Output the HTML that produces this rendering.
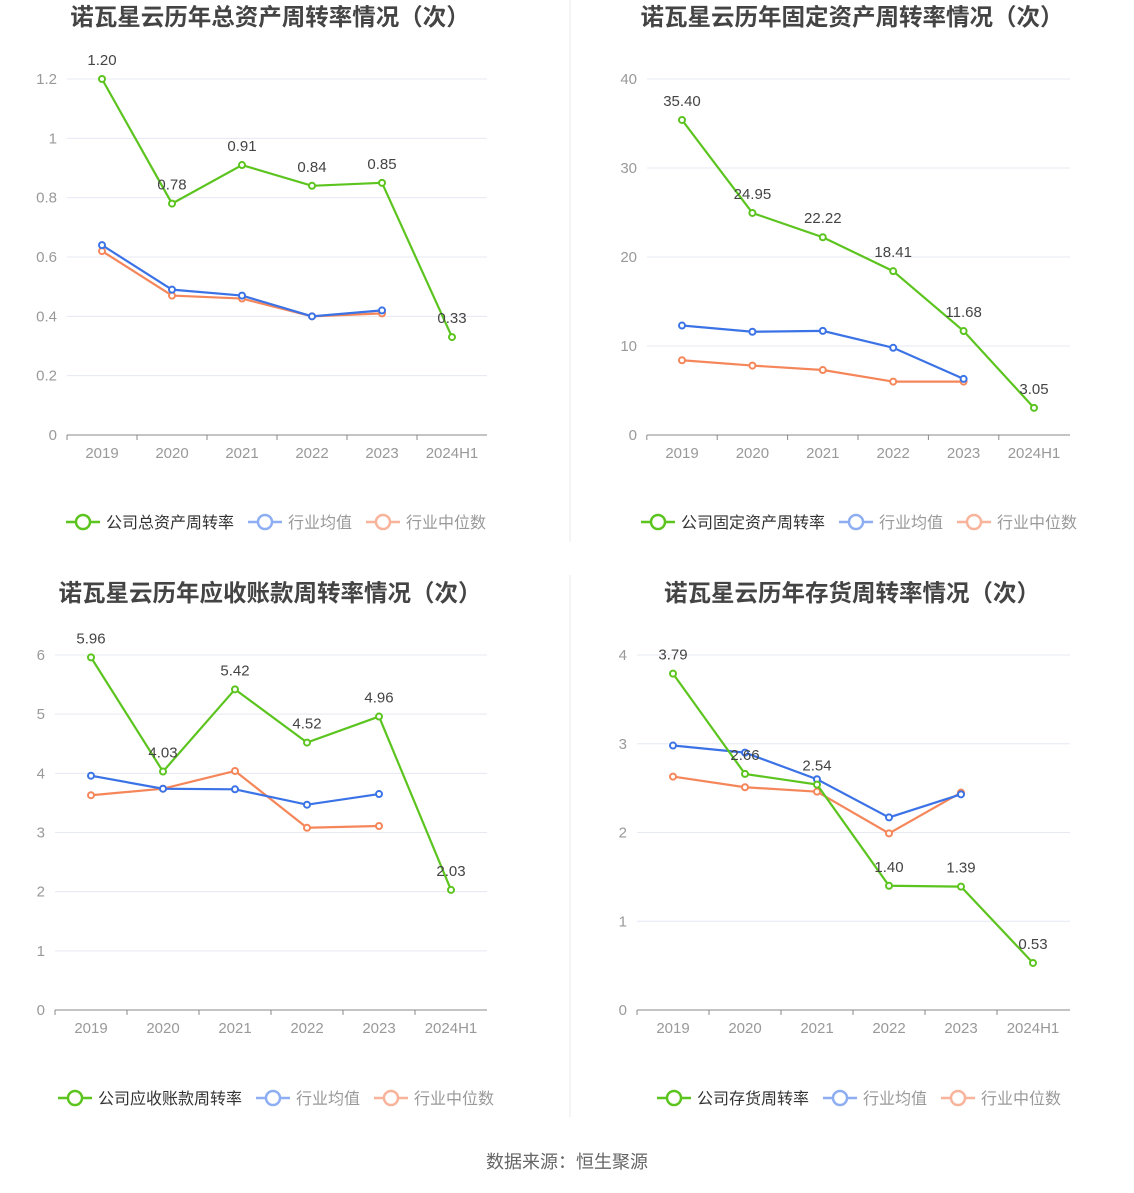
<!DOCTYPE html>
<html><head><meta charset="utf-8"><style>
body{margin:0;background:#fff;width:1134px;height:1188px;overflow:hidden;font-family:"Liberation Sans","Noto Sans CJK SC",sans-serif}
svg text{font-family:"Liberation Sans","Noto Sans CJK SC",sans-serif}
</style></head><body>
<svg id="root" width="1134" height="1188">
<line x1="570" y1="0" x2="570" y2="542" stroke="#e8e8e8"/>
<line x1="570" y1="575" x2="570" y2="1117" stroke="#e8e8e8"/>
<text x="567" y="1168" text-anchor="middle" font-size="18" fill="#666">数据来源：恒生聚源</text>
</svg>
<script>
const categories=["2019","2020","2021","2022","2023","2024H1"];
const c1Company=[1.20,0.78,0.91,0.84,0.85,0.33];
const c1Avg=[0.64,0.49,0.47,0.40,0.42];
const c1Med=[0.62,0.47,0.46,0.40,0.41];
const c1Ticks=[0,0.2,0.4,0.6,0.8,1,1.2];
const c2Company=[35.40,24.95,22.22,18.41,11.68,3.05];
const c2Avg=[12.3,11.6,11.7,9.8,6.3];
const c2Med=[8.4,7.8,7.3,6.0,6.0];
const c2Ticks=[0,10,20,30,40];
const c3Company=[5.96,4.03,5.42,4.52,4.96,2.03];
const c3Avg=[3.96,3.74,3.73,3.47,3.65];
const c3Med=[3.63,3.74,4.04,3.08,3.11];
const c3Ticks=[0,1,2,3,4,5,6];
const c4Company=[3.79,2.66,2.54,1.40,1.39,0.53];
const c4Avg=[2.98,2.90,2.60,2.17,2.43];
const c4Med=[2.63,2.51,2.46,1.99,2.45];
const c4Ticks=[0,1,2,3,4];

const NS="http://www.w3.org/2000/svg";
const root=document.getElementById('root');
function mk(tag,attrs,parent){const e=document.createElementNS(NS,tag);for(const k in attrs)e.setAttribute(k,attrs[k]);parent.appendChild(e);return e;}
const G="#5cc41f",B="#3b73e6",O="#f5865a";

function chart(cfg){
  const g=mk('g',{},root);
  
  
  const t=mk('text',{x:cfg.tx,y:cfg.ty,'text-anchor':'middle','font-size':23.5,'font-weight':'bold',fill:'#444'},g);
  t.textContent=cfg.title;
  
  
  const max=cfg.ticks[cfg.ticks.length-1];
  const y=v=>cfg.y0-(v/max)*(cfg.y0-cfg.yTop);
  const x=i=>cfg.x0+cfg.step*i;
  cfg.ticks.forEach(tv=>{
    if(tv>0){const l=mk('line',{x1:cfg.left,x2:cfg.right,y1:y(tv),y2:y(tv),stroke:'#e6e8f2'},g);
      }
    const tl=mk('text',{x:cfg.left-10,y:y(tv)+5,'text-anchor':'end','font-size':15,fill:'#999'},g);
    tl.textContent=String(tv);
    
  });
  const ax=mk('line',{x1:cfg.left,x2:cfg.right,y1:cfg.y0,y2:cfg.y0,stroke:'#888'},g);
  
  categories.forEach((c,i)=>{
    const tk=mk('line',{x1:x(i)-cfg.step/2,x2:x(i)-cfg.step/2,y1:cfg.y0,y2:cfg.y0+5,stroke:'#888'},g);
    
    const tl=mk('text',{x:x(i),y:cfg.y0+23,'text-anchor':'middle','font-size':15,fill:'#999'},g);
    tl.textContent=c;
    
  });
  const series=[[cfg.med,O,'median-line'],[cfg.avg,B,'average-line'],[cfg.comp,G,'company-line']];
  series.forEach(([d,col,nm])=>{
    const p=mk('polyline',{points:d.map((v,i)=>x(i)+','+y(v)).join(' '),fill:'none',stroke:col,'stroke-width':2.2},g);
    
    d.forEach((v,i)=>{
      const c=mk('circle',{cx:x(i),cy:y(v),r:3,fill:'#fff',stroke:col,'stroke-width':2},g);
      
    });
  });
  cfg.comp.forEach((v,i)=>{
    const tl=mk('text',{x:x(i),y:y(v)-14,'text-anchor':'middle','font-size':15,fill:'#444'},g);
    tl.textContent=v.toFixed(2);
    
  });
  let lx=cfg.lx;const ly=cfg.ly;
  const items=[[cfg.lname,G,'#333'],['行业均值','#8eaef3','#999'],['行业中位数','#f8b39b','#999']];
  items.forEach(([lab,col,tc])=>{
    const lg=mk('g',{},g);
    
    mk('line',{x1:lx,x2:lx+34,y1:ly,y2:ly,stroke:col,'stroke-width':2.5},lg);
    mk('circle',{cx:lx+17,cy:ly,r:7,fill:'#fff',stroke:col,'stroke-width':2.5},lg);
    const tt=mk('text',{x:lx+40,y:ly+6,'font-size':16,fill:tc},lg);
    tt.textContent=lab;
    lx+=40+lab.length*16+14;
  });
}
chart({name:'total-asset-turnover-chart',title:'诺瓦星云历年总资产周转率情况（次）',tx:270,ty:25,left:67,right:487,x0:102,step:70,y0:435,yTop:79,ticks:c1Ticks,comp:c1Company,avg:c1Avg,med:c1Med,lname:'公司总资产周转率',lx:66,ly:522});
chart({name:'fixed-asset-turnover-chart',title:'诺瓦星云历年固定资产周转率情况（次）',tx:852,ty:25,left:647,right:1070,x0:682,step:70.4,y0:435,yTop:79,ticks:c2Ticks,comp:c2Company,avg:c2Avg,med:c2Med,lname:'公司固定资产周转率',lx:641,ly:522});
chart({name:'receivables-turnover-chart',title:'诺瓦星云历年应收账款周转率情况（次）',tx:270,ty:601,left:55,right:487,x0:91,step:72,y0:1010,yTop:655,ticks:c3Ticks,comp:c3Company,avg:c3Avg,med:c3Med,lname:'公司应收账款周转率',lx:58,ly:1098});
chart({name:'inventory-turnover-chart',title:'诺瓦星云历年存货周转率情况（次）',tx:852,ty:601,left:637,right:1070,x0:673,step:72,y0:1010,yTop:655,ticks:c4Ticks,comp:c4Company,avg:c4Avg,med:c4Med,lname:'公司存货周转率',lx:657,ly:1098});
</script>
</body></html>
